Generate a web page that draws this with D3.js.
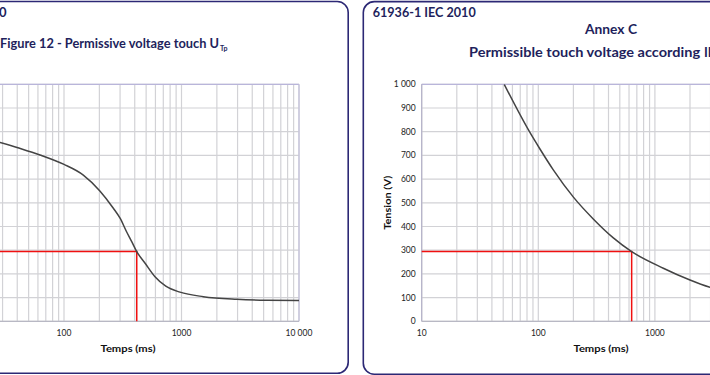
<!DOCTYPE html>
<html>
<head>
<meta charset="utf-8">
<script src="https://cdn.jsdelivr.net/npm/d3@7"></script>
<style>
  body { margin: 0; background: #fff; }
  svg { display: block; font-family: Lato, "Open Sans", sans-serif; }
</style>
</head>
<body>
<script>
// axis ticks shared by both charts
const xTicks = [10, 100, 1000, 10000];
const xTickLabels = ['10', '100', '1000', '10 000'];
const yTicks = [0, 100, 200, 300, 400, 500, 600, 700, 800, 900, 1000];
const yTickLabels = ['0', '100', '200', '300', '400', '500', '600', '700', '800', '900', '1 000'];

// Figure 12 (left chart) : time in ms, voltage in V
const leftTimes = [20, 28.5, 42, 62.5, 100, 146, 202, 263, 300, 340, 377, 416, 490, 595, 735, 971, 1534, 2950, 5310, 10000];
const leftVoltages = [770, 755, 730, 702, 662, 617, 550, 477, 435, 379, 336, 294, 245, 188, 148, 123, 104, 93, 89, 88];

// Annex C (right chart)
const rightTimes = [51, 84, 103, 134, 200, 296, 440, 632, 1181, 2000, 2970, 4000];
const rightVoltages = [1000, 800, 728, 640, 524, 432, 352, 294, 224, 174, 143, 125];

// red reading lines: [left chart, right chart]
const refTimes = [416, 632];
const refVoltages = [294, 294];

const W = 710, H = 375;
const navy = '#221f5c';

const svg = d3.select('body')
    .append('svg')
    .attr('width', W)
    .attr('height', H);

function drawPanel(cfg) {
    const g = svg.append('g');

    // panel frame
    g.append('rect')
        .attr('x', cfg.frame[0])
        .attr('y', cfg.frame[1])
        .attr('width', cfg.frame[2])
        .attr('height', cfg.frame[3])
        .attr('rx', 11)
        .attr('fill', '#fff')
        .attr('stroke', '#2c2875')
        .attr('stroke-width', 1.6);

    const x = d3.scaleLog().domain([10, 10000]).range(cfg.xRange);
    const y = d3.scaleLinear().domain([0, 1000]).range([321.3, 84.3]);
    const [x0, x1] = cfg.xRange;

    // vertical grid (every 1..9 x decade)
    g.append('g').selectAll('line')
        .data(x.ticks())
        .enter()
        .append('line')
        .attr('x1', (d) => x(d))
        .attr('x2', (d) => x(d))
        .attr('y1', y(0))
        .attr('y2', y(1000))
        .attr('stroke', '#d2d2d6')
        .attr('stroke-width', 1.2);

    // horizontal grid
    g.append('g').selectAll('line')
        .data(yTicks)
        .enter()
        .append('line')
        .attr('x1', x0)
        .attr('x2', x1)
        .attr('y1', (d) => y(d))
        .attr('y2', (d) => y(d))
        .attr('stroke', '#d2d2d6')
        .attr('stroke-width', 1.2);

    // plot frame
    g.append('line').attr('x1', x0).attr('x2', x1).attr('y1', y(1000)).attr('y2', y(1000))
        .attr('stroke', '#b9b5da').attr('stroke-width', 1.2);
    g.append('line').attr('x1', x1).attr('x2', x1).attr('y1', y(0)).attr('y2', y(1000))
        .attr('stroke', '#c4c2dc').attr('stroke-width', 1.2);
    g.append('line').attr('x1', x0).attr('x2', x0).attr('y1', y(0)).attr('y2', y(1000))
        .attr('stroke', '#b4b2c8').attr('stroke-width', 1.2);
    g.append('line').attr('x1', x0).attr('x2', x1).attr('y1', y(0)).attr('y2', y(0))
        .attr('stroke', '#b8b8c4').attr('stroke-width', 1.2);

    // tick labels (only the ones that land inside the page)
    g.append('g').selectAll('text')
        .data(xTicks.filter((d) => x(d) > 0))
        .enter()
        .append('text')
        .attr('x', (d) => x(d))
        .attr('y', 336)
        .attr('text-anchor', 'middle')
        .attr('font-size', 8.5)
        .attr('fill', '#222')
        .text((d) => xTickLabels[xTicks.indexOf(d)]);

    if (x0 > 0) {
        g.append('g').selectAll('text')
            .data(yTicks)
            .enter()
            .append('text')
            .attr('x', x0 - 6)
            .attr('y', (d) => y(d) + 3)
            .attr('text-anchor', 'end')
            .attr('font-size', 8.5)
            .attr('fill', '#222')
            .text((d, i) => yTickLabels[i]);

        g.append('text')
            .attr('transform', `translate(${x0 - 31}, ${(y(0) + y(1000)) / 2}) rotate(-90)`)
            .attr('text-anchor', 'middle')
            .attr('font-size', 10)
            .attr('font-weight', 'bold')
            .attr('fill', '#111')
            .attr('textLength', 54)
            .attr('lengthAdjust', 'spacingAndGlyphs')
            .text('Tension (V)');
    }

    // x axis title
    g.append('text')
        .attr('x', cfg.xTitle)
        .attr('y', 352)
        .attr('text-anchor', 'middle')
        .attr('font-size', 10)
        .attr('font-weight', 'bold')
        .attr('fill', '#111')
        .attr('textLength', 55)
        .attr('lengthAdjust', 'spacingAndGlyphs')
        .text('Temps (ms)');

    // red reading lines
    const rt = refTimes[cfg.index], rv = refVoltages[cfg.index];
    g.append('path')
        .attr('d', `M${x0},${y(rv)}H${x(rt)}V${y(0)}`)
        .attr('fill', 'none')
        .attr('stroke', '#f01010')
        .attr('stroke-width', 1.5);

    // curve
    const pts = cfg.times.map((t, i) => [t, cfg.volts[i]]);
    g.append('clipPath').attr('id', 'clip' + cfg.index)
        .append('rect')
        .attr('x', x0).attr('y', y(1000))
        .attr('width', x1 - x0).attr('height', y(0) - y(1000));
    g.append('path')
        .datum(pts)
        .attr('clip-path', `url(#clip${cfg.index})`)
        .attr('d', d3.line()
            .x((d) => x(d[0]))
            .y((d) => y(d[1]))
            .curve(d3.curveMonotoneX))
        .attr('fill', 'none')
        .attr('stroke', '#444')
        .attr('stroke-width', 1.5);

    return g;
}

const left = drawPanel({
    index: 0,
    frame: [-400, 1.5, 748.2, 371.8],
    xRange: [299 - 3 * 117.5, 299],
    xTitle: 128,
    times: leftTimes,
    volts: leftVoltages
});

const right = drawPanel({
    index: 1,
    frame: [363.3, 1.6, 600, 372.6],
    xRange: [421.7, 421.7 + 3 * 116.6],
    xTitle: 601,
    times: rightTimes,
    volts: rightVoltages
});

// headings
left.append('text')
    .attr('x', 6.5).attr('y', 17)
    .attr('text-anchor', 'end')
    .attr('font-size', 13).attr('font-weight', 'bold').attr('fill', navy)
    .text('EN 50522 2010');

const fig = left.append('text')
    .attr('x', 0).attr('y', 48)
    .attr('font-size', 12.5).attr('font-weight', 'bold').attr('fill', navy);
fig.append('tspan')
    .attr('textLength', 219)
    .attr('lengthAdjust', 'spacingAndGlyphs')
    .text('Figure 12 - Permissive voltage touch U');
fig.append('tspan').attr('font-size', 7).attr('dx', 1).attr('dy', 3).text('Tp');

right.append('text')
    .attr('x', 372.7).attr('y', 17)
    .attr('font-size', 13).attr('font-weight', 'bold').attr('fill', navy)
    .attr('textLength', 103)
    .attr('lengthAdjust', 'spacingAndGlyphs')
    .text('61936-1 IEC 2010');

right.append('text')
    .attr('x', 611).attr('y', 34)
    .attr('text-anchor', 'middle')
    .attr('font-size', 13).attr('font-weight', 'bold').attr('fill', navy)
    .attr('textLength', 52)
    .attr('lengthAdjust', 'spacingAndGlyphs')
    .text('Annex C');

const sub = right.append('text')
    .attr('x', 469).attr('y', 57)
    .attr('font-size', 13).attr('font-weight', 'bold').attr('fill', navy);
sub.append('tspan')
    .attr('textLength', 231)
    .attr('lengthAdjust', 'spacingAndGlyphs')
    .text('Permissible touch voltage according');
sub.append('tspan').attr('dx', 4).text('IEC 61936-1');
</script>
</body>
</html>
